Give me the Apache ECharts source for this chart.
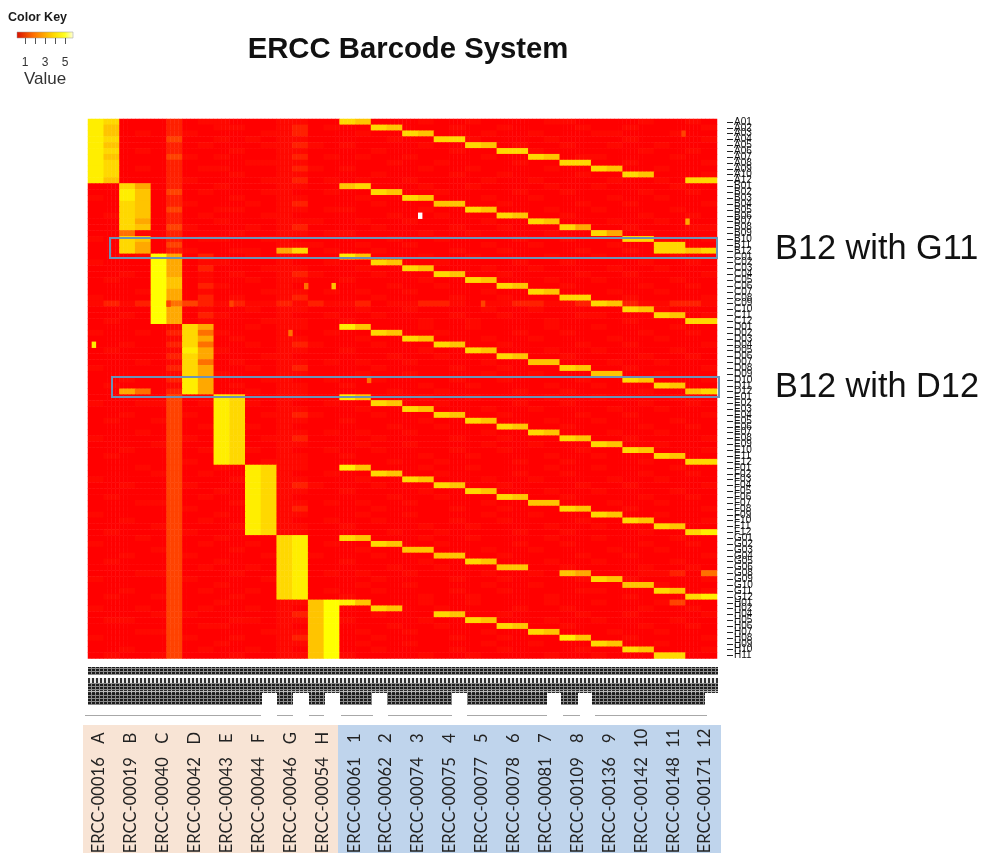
<!DOCTYPE html>
<html>
<head>
<meta charset="utf-8">
<style>html,body{margin:0;padding:0;background:#fff}#c{width:982px;height:853px}</style>
<script src="https://cdn.jsdelivr.net/npm/echarts@6/dist/echarts.min.js"></script>
</head>
<body>
<div id="c"></div>
<script>
// Expression levels: 20 barcodes x 2 sub-columns (A..H, 1..12)
const blockA = [
"87 00 02 01 10 00 11 00 76 00 01 00 10 00 01 10 00 01 00 10",
"86 00 02 00 11 00 12 01 00 76 00 01 00 10 00 01 00 10 00 01",
"86 01 02 10 00 01 12 00 01 00 76 00 01 00 10 00 11 00 01 00",
"87 00 03 00 10 10 11 00 00 01 00 77 10 00 01 00 00 10 00 01",
"86 00 02 01 00 01 12 10 10 00 01 00 76 01 00 10 01 00 10 00",
"87 01 02 00 01 00 11 00 00 10 00 01 00 77 10 00 00 01 00 10",
"86 00 03 10 10 00 12 01 01 00 10 00 01 00 76 01 10 00 01 00",
"87 00 02 00 00 11 11 00 00 01 00 10 00 01 00 77 00 10 00 01",
"87 01 02 01 10 00 12 10 10 00 01 00 10 00 01 00 76 00 10 00",
"87 00 02 00 01 00 11 00 00 10 00 01 00 10 00 01 00 76 00 01",
"86 00 02 10 00 01 12 01 01 00 10 00 01 00 10 00 01 00 10 77"];
const blockB = [
"00 75 02 00 10 00 11 00 67 00 01 00 10 00 01 00 10 00 01 00",
"00 86 03 01 00 01 10 01 00 76 00 10 00 01 00 10 00 01 00 10",
"10 86 02 00 01 00 11 00 01 00 76 00 01 00 10 00 01 00 10 00",
"00 76 02 10 00 10 12 00 00 10 00 66 00 10 00 01 00 10 00 01",
"00 76 03 00 11 00 11 01 10 00 01 00 76 00 01 00 10 00 01 00",
"01 76 02 01 00 01 10 00 00 01 00 10 00 76 00 10 00 01 00 10",
"00 75 02 00 10 00 11 10 01 00 10 00 01 00 76 00 01 00 10 00",
"00 76 03 10 00 10 12 00 00 10 00 01 00 10 00 75 00 10 00 11",
"00 41 02 00 01 00 11 01 10 00 01 00 10 00 01 00 75 01 00 00",
"10 76 02 01 10 01 10 00 00 01 00 10 00 01 00 10 00 77 10 01",
"00 75 03 00 00 00 11 10 01 00 10 00 01 00 10 00 01 00 77 00",
"00 75 02 10 01 10 57 01 00 10 00 01 00 10 00 01 00 10 77 67"];
const blockC = [
"00 01 95 02 00 10 11 00 86 00 01 00 10 00 01 00 10 00 01 00",
"10 00 95 01 10 00 10 01 00 76 00 10 00 01 00 10 00 01 00 10",
"00 00 95 02 00 01 11 00 01 00 76 00 01 00 10 00 01 00 10 00",
"00 10 95 01 01 00 12 10 00 10 00 76 00 10 00 01 00 10 00 01",
"01 00 96 01 00 10 11 00 10 00 01 00 76 00 01 00 10 00 01 00",
"00 00 96 02 10 00 10 00 00 01 00 10 00 76 00 10 00 01 00 10",
"00 01 95 01 00 01 11 01 01 00 10 00 01 00 76 00 01 00 10 00",
"10 00 95 02 01 00 12 00 00 10 00 01 00 10 00 77 00 10 00 01",
"12 12 94 32 12 11 21 21 12 01 12 21 01 12 21 12 76 21 12 21",
"00 00 95 01 00 10 11 00 01 00 10 00 01 00 10 00 00 76 10 00",
"00 10 95 02 10 00 10 01 00 10 00 01 00 10 00 01 10 00 76 01",
"01 00 95 01 00 01 11 00 10 00 01 00 10 00 01 00 00 10 00 77"];
const blockD = [
"00 00 01 75 00 10 11 00 86 00 01 00 10 00 01 00 10 00 01 00",
"10 01 02 74 10 00 10 01 00 76 00 10 00 01 00 10 00 01 00 10",
"00 00 01 75 01 00 11 00 01 00 76 00 01 00 10 00 01 00 10 00",
"00 10 02 74 00 10 12 10 00 10 00 76 00 10 00 01 00 10 00 01",
"01 00 01 85 10 00 11 00 10 00 01 00 76 00 01 00 10 00 01 00",
"00 00 02 75 00 01 10 00 00 01 00 10 00 76 00 10 00 01 00 10",
"00 01 01 74 01 00 11 01 01 00 10 00 01 00 66 00 01 00 10 00",
"10 00 02 75 00 10 12 00 00 10 00 01 00 10 00 76 00 10 00 01",
"00 00 01 75 10 00 11 00 01 00 10 00 01 00 10 00 66 00 10 00",
"00 10 02 85 00 01 10 01 00 10 00 01 00 10 00 01 00 76 00 01",
"01 00 01 85 01 00 11 00 10 00 01 00 10 00 01 00 10 00 76 00",
"00 54 02 85 00 10 11 00 00 01 00 10 00 01 00 10 00 01 00 67"];
const blockE = [
"00 00 03 00 87 00 11 00 86 00 01 00 10 00 01 00 10 00 01 00",
"10 01 13 01 87 10 10 01 00 76 00 10 00 01 00 10 00 01 00 10",
"00 00 03 00 87 00 11 00 01 00 76 00 01 00 10 00 01 00 10 00",
"00 10 03 10 87 01 12 10 00 10 00 76 00 10 00 01 00 10 00 01",
"01 00 13 00 87 00 11 00 10 00 01 00 76 00 01 00 10 00 01 00",
"00 00 03 01 87 10 10 00 00 01 00 10 00 76 00 10 00 01 00 10",
"00 01 03 00 87 00 11 01 01 00 10 00 01 00 76 00 01 00 10 00",
"10 00 03 10 87 01 12 00 00 10 00 01 00 10 00 76 00 10 00 01",
"00 00 13 00 87 00 11 00 01 00 10 00 01 00 10 00 76 00 10 00",
"00 10 03 01 87 10 10 01 00 10 00 01 00 10 00 01 00 76 00 01",
"01 00 03 00 87 00 11 00 10 00 01 00 10 00 01 00 10 00 76 00",
"00 00 03 10 87 01 11 00 00 01 00 10 00 01 00 10 00 01 00 77"];
const blockF = [
"00 01 03 00 10 87 11 00 86 00 01 00 10 00 01 00 10 00 01 00",
"00 00 13 01 00 87 10 01 00 76 00 10 00 01 00 10 00 01 00 10",
"10 00 03 00 01 87 11 00 01 00 76 00 01 00 10 00 01 00 10 00",
"00 10 03 10 00 87 12 10 00 10 00 76 00 10 00 01 00 10 00 01",
"00 00 03 00 10 87 11 00 10 00 01 00 76 00 01 00 10 00 01 00",
"01 00 03 01 00 87 10 00 00 01 00 10 00 76 00 10 00 01 00 10",
"00 01 13 00 01 87 11 01 01 00 10 00 01 00 66 00 01 00 10 00",
"00 00 03 10 00 87 12 00 00 10 00 01 00 10 00 76 00 10 00 01",
"10 00 03 00 10 87 11 00 01 00 10 00 01 00 10 00 76 00 10 00",
"00 10 03 01 00 87 10 01 00 10 00 01 00 10 00 01 00 76 00 01",
"00 00 13 00 01 87 11 00 10 00 01 00 10 00 01 00 10 00 76 00",
"01 00 03 10 00 87 11 00 00 01 00 10 00 01 00 10 00 01 00 78"];
const blockG = [
"00 01 03 00 10 00 78 00 76 00 01 00 10 00 01 00 10 00 01 00",
"10 00 03 01 00 10 78 01 00 76 00 10 00 01 00 10 00 01 00 10",
"00 00 13 00 01 00 78 00 01 00 66 00 01 00 10 00 01 00 10 00",
"00 10 03 10 00 01 78 10 00 10 00 66 00 10 00 01 00 10 00 01",
"01 00 03 00 10 00 78 00 10 00 01 00 76 00 01 00 10 00 01 00",
"00 00 03 01 00 10 78 00 00 01 00 10 00 66 00 10 00 01 00 10",
"00 01 13 00 01 00 78 01 01 00 10 00 01 00 10 65 00 01 12 04",
"10 00 03 10 00 01 78 00 00 10 00 01 00 10 00 01 76 10 00 01",
"00 00 03 00 10 00 78 00 01 00 10 00 01 00 10 00 00 66 10 00",
"00 10 03 01 00 10 78 01 00 10 00 01 00 10 00 01 10 00 76 01",
"01 00 13 00 01 00 78 00 10 00 01 00 10 00 01 00 00 10 00 78"];
const blockH = [
"00 00 03 00 10 00 11 69 86 00 01 00 10 00 01 00 10 00 13 00",
"10 01 03 01 00 10 10 69 00 76 00 10 00 01 00 10 00 01 00 10",
"00 00 13 10 00 00 12 69 00 10 00 76 00 10 00 01 00 10 00 01",
"01 10 03 00 01 10 11 69 10 00 01 00 76 00 01 00 10 00 01 00",
"00 00 03 01 10 00 10 69 00 01 00 10 00 76 00 10 00 01 00 10",
"00 01 13 00 00 01 11 69 01 00 10 00 01 00 76 00 01 00 10 00",
"10 00 03 10 01 00 12 69 00 10 00 01 00 10 00 86 00 10 00 01",
"00 00 03 00 10 00 11 69 01 00 10 00 01 00 10 00 76 00 10 00",
"00 10 03 01 00 10 10 69 00 10 00 01 00 10 00 01 00 76 00 01",
"01 00 13 00 01 00 11 69 10 00 01 00 10 00 01 00 10 00 77 00"];
const blocks = [blockA, blockB, blockC, blockD, blockE, blockF, blockG, blockH];

// Row (well) labels
const wellsA = ["A01","A02","A03","A04","A05","A06","A07","A08","A09","A10","A12"];
const wellsB = ["B01","B02","B03","B04","B05","B06","B07","B08","B09","B10","B11","B12"];
const wellsC = ["C01","C02","C03","C04","C05","C06","C07","C08","C09","C10","C11","C12"];
const wellsD = ["D01","D02","D03","D04","D05","D06","D07","D08","D09","D10","D11","D12"];
const wellsE = ["E01","E02","E03","E04","E05","E06","E07","E08","E09","E10","E11","E12"];
const wellsF = ["F01","F02","F03","F04","F05","F06","F07","F08","F09","F10","F11","F12"];
const wellsG = ["G01","G02","G03","G04","G05","G06","G08","G09","G10","G11","G12"];
const wellsH = ["H01","H02","H04","H05","H06","H07","H08","H09","H10","H11"];
const wells = [].concat(wellsA, wellsB, wellsC, wellsD, wellsE, wellsF, wellsG, wellsH);

// Column labels
const spikeIds = ["ERCC-00016","ERCC-00019","ERCC-00040","ERCC-00042","ERCC-00043","ERCC-00044","ERCC-00046","ERCC-00054","ERCC-00061","ERCC-00062","ERCC-00074","ERCC-00075","ERCC-00077","ERCC-00078","ERCC-00081","ERCC-00109","ERCC-00136","ERCC-00142","ERCC-00148","ERCC-00171"];
const barcodeNames = ["A","B","C","D","E","F","G","H","1","2","3","4","5","6","7","8","9","10","11","12"];

// Isolated narrow cells: [well, fine column, level]
const spots = [["D04",1,8],["B06",84,11],["C06",55,4],["C06",62,6],["D02",51,4],["D10",71,4],["B07",152,5],["A03",151,3],["C09",20,3],["C09",36,3],["C09",100,3]];

const levelColors = ["#ff0000","#ff0800","#ff2000","#ff4200","#ff7000","#ffa800","#ffc400","#ffd800","#ffee00","#ffff00","#ffff80","#ffffff"];

const FINE = 4;               // each printed sub-column holds four sample columns
const cells = [];
const fineCols = [];
const rows = [].concat.apply([], blocks);
rows.forEach(function (text, r) {
  text.replace(/ /g, "").split("").forEach(function (ch, c) {
    for (let k = 0; k < FINE; k++) cells.push([c * FINE + k, r, Number(ch)]);
  });
});
for (let i = 0; i < 40 * FINE; i++) fineCols.push(String(i));
spots.forEach(function (s) { cells.push([s[1], wells.indexOf(s[0]), s[2]]); });

function makePattern(dark, w, h, gapX, gapY, bg) {
  const cv = document.createElement("canvas");
  cv.width = w; cv.height = h;
  const g = cv.getContext("2d");
  g.fillStyle = bg; g.fillRect(0, 0, w, h);
  g.fillStyle = dark;
  g.fillRect(0, 0, w - gapX, h - gapY);
  return cv;
}
const patDense = makePattern("#1c1c1c", 4, 3, 1, 1, "#8a8a8a");
const patMid   = makePattern("#2a2a2a", 4, 4, 1, 1, "#b8b8b8");
const patBars  = makePattern("#333333", 4, 4, 2, 0, "#e8e8e8");
const band = function (x, y, w, h, pat) {
  return { type: "rect", shape: { x: x, y: y, width: w, height: h }, style: { fill: { image: pat, repeat: "repeat" } }, silent: true };
};
const solid = function (x, y, w, h, fill) {
  return { type: "rect", shape: { x: x, y: y, width: w, height: h }, style: { fill: fill }, silent: true };
};
const txt = function (x, y, t, font, fill, align) {
  return { type: "text", x: x, y: y, style: { text: t, font: font, fill: fill, align: align || "left", verticalAlign: "middle" }, silent: true };
};
const box = function (x, y, w, h) {
  return { type: "rect", z: 10, shape: { x: x, y: y, width: w, height: h }, style: { fill: "none", stroke: "#6a93b8", lineWidth: 2 }, silent: true };
};

const graphics = [
  solid(83, 725, 255, 128, "#f8e4d5"),
  solid(338, 725, 383, 128, "#bfd4ec"),
  txt(8, 18, "Color Key", "bold 12.5px 'Liberation Sans'", "#1a1a1a"),
  { type: "rect", shape: { x: 17, y: 32, width: 56, height: 6 }, silent: true,
    style: { stroke: "#999", lineWidth: 0.5, fill: { type: "linear", x: 0, y: 0, x2: 1, y2: 0, colorStops: [
      { offset: 0, color: "#d81000" }, { offset: 0.3, color: "#ff7000" }, { offset: 0.65, color: "#ffd800" }, { offset: 0.85, color: "#ffff20" }, { offset: 1, color: "#ffffe0" }] } } },
  txt(25, 63, "1", "12px 'Liberation Sans'", "#333", "center"),
  txt(45, 63, "3", "12px 'Liberation Sans'", "#333", "center"),
  txt(65, 63, "5", "12px 'Liberation Sans'", "#333", "center"),
  txt(45, 79, "Value", "17px 'Liberation Sans'", "#333", "center"),
  txt(775, 250, "B12 with G11", "34.3px 'Liberation Sans'", "#111"),
  txt(775, 388, "B12 with D12", "34.3px 'Liberation Sans'", "#111"),
  box(110, 238, 607, 20),
  box(112, 377, 607, 20),
  band(88, 667, 630, 8, patDense),
  band(88, 678, 630, 5, patBars),
  band(88, 683, 630, 7, patDense),
  band(88, 690, 630, 3, patMid)
];
[25, 35, 45, 55, 65].forEach(function (x) { graphics.push(solid(x, 38, 1, 6, "#555")); });
// lower part of the illegible sample-label band and its rule, broken where the names are shorter
[[88,174],[277,16],[309,16],[340,32],[387,65],[467,80],[561,17],[592,113]].forEach(function (s) {
  graphics.push(band(s[0], 693, s[1], 12, patDense));
});
[[85,176],[277,16],[309,15],[341,32],[388,64],[467,80],[563,17],[595,112]].forEach(function (s) {
  graphics.push(solid(s[0], 715, s[1], 1, "#a8a8a8"));
});

const chart = echarts.init(document.getElementById("c"), null, { renderer: "canvas" });
chart.setOption({
  animation: false,
  backgroundColor: "#fff",
  title: { text: "ERCC Barcode System", left: 403, top: 30, textAlign: "center", textStyle: { fontFamily: "Liberation Sans", fontWeight: "bold", fontSize: 29.3, color: "#111" } },
  grid: [
    { left: 88, top: 119, width: 629, height: 539.5, containLabel: false },
    { left: 83, top: 738, width: 638, height: 1, containLabel: false }
  ],
  xAxis: [
    { type: "category", gridIndex: 0, data: fineCols, axisLine: { show: false }, axisTick: { show: false }, axisLabel: { show: false }, splitLine: { show: false } },
    { type: "category", gridIndex: 1, data: spikeIds, position: "bottom", axisLine: { show: false }, axisTick: { show: false },
      axisLabel: { interval: 0, rotate: 90, margin: 19, align: "right", verticalAlign: "middle", fontFamily: "Lato", fontSize: 16.6, color: "#222" } },
    { type: "category", gridIndex: 1, data: barcodeNames, position: "bottom", axisLine: { show: false }, axisTick: { show: false },
      axisLabel: { interval: 0, rotate: 90, margin: 0, align: "center", verticalAlign: "middle", fontFamily: "Lato", fontSize: 16.6, color: "#222" } }
  ],
  yAxis: [
    { type: "category", gridIndex: 0, data: wells, inverse: true, position: "right", offset: 10,
      axisLine: { show: false }, axisTick: { show: true, length: 6, alignWithLabel: true, lineStyle: { color: "#222", width: 1 } },
      axisLabel: { interval: 0, margin: 7, fontFamily: "Liberation Sans", fontSize: 10, color: "#111", hideOverlap: false }, splitLine: { show: false } },
    { type: "value", gridIndex: 1, show: false }
  ],
  visualMap: { show: false, type: "continuous", seriesIndex: 0, min: 0, max: 11, dimension: 2, inRange: { color: levelColors } },
  series: [{ type: "heatmap", xAxisIndex: 0, yAxisIndex: 0, data: cells, progressive: 0, itemStyle: { borderWidth: 0 }, emphasis: { disabled: true } }],
  graphic: graphics
});
</script>
</body>
</html>
